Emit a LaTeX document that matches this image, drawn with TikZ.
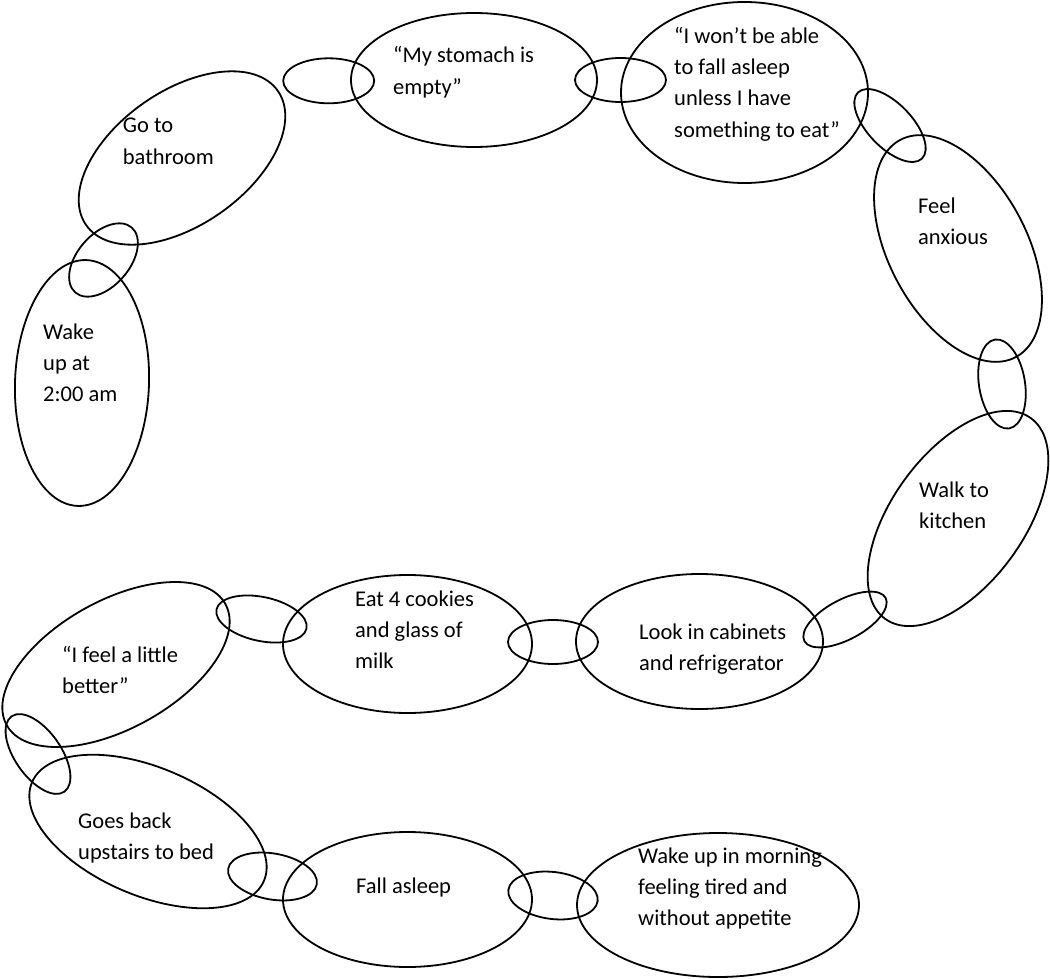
\documentclass[tikz,border=0pt]{standalone}
\usepackage{fontspec}
\setmainfont{Carlito}
\usetikzlibrary{shapes.geometric}
\newcommand\mlines[1]{\vtop{\halign{##\hfil\cr#1\crcr}}}
\begin{document}
\begin{tikzpicture}[x=1pt,y=-1pt,
  oval/.style={draw=black, line width=1.8pt, ellipse, inner sep=0pt, outer sep=0pt},
  lbl/.style={anchor=base west, inner sep=0pt, font=\fontsize{22.5}{31.3}\selectfont}]
\useasboundingbox (0,0) rectangle (1050,979);
% main ellipses
\node[oval, minimum width=134, minimum height=246, rotate=-2] (e1) at (82,383) {};
\node[oval, minimum width=234, minimum height=134, rotate=35] (e2) at (182,158) {};
\node[oval, minimum width=246, minimum height=134] (e3) at (474,80) {};
\node[oval, minimum width=247, minimum height=181] (e4) at (744.5,92.5) {};
\node[oval, minimum width=246, minimum height=138, rotate=-62] (e5) at (958,248.5) {};
\node[oval, minimum width=248, minimum height=132, rotate=54] (e6) at (958,518.5) {};
\node[oval, minimum width=247, minimum height=135] (e7) at (699.5,641.5) {};
\node[oval, minimum width=249, minimum height=138] (e8) at (407.5,644) {};
\node[oval, minimum width=250, minimum height=128, rotate=29] (e9) at (116,664.5) {};
\node[oval, minimum width=252, minimum height=128, rotate=-23] (e10) at (148,831.5) {};
\node[oval, minimum width=249, minimum height=135] (e11) at (407.5,899.5) {};
\node[oval, minimum width=282, minimum height=144] (e12) at (718,905) {};
% links
\node[oval, minimum width=86, minimum height=52, rotate=49] (l1) at (103.5,260) {};
\node[oval, minimum width=91, minimum height=45] (l2) at (328.7,80.8) {};
\node[oval, minimum width=91, minimum height=44] (l3) at (620.5,80) {};
\node[oval, minimum width=92, minimum height=44, rotate=-46] (l4) at (890,125.5) {};
\node[oval, minimum width=90, minimum height=46, rotate=-81] (l5) at (1002,384) {};
\node[oval, minimum width=92, minimum height=40, rotate=28] (l6) at (845,619.5) {};
\node[oval, minimum width=90, minimum height=44] (l7) at (553,642) {};
\node[oval, minimum width=92, minimum height=44, rotate=-12] (l8) at (261.5,619) {};
\node[oval, minimum width=92, minimum height=46, rotate=-55] (l9) at (38,754) {};
\node[oval, minimum width=90, minimum height=46, rotate=-10] (l10) at (272.5,876.5) {};
\node[oval, minimum width=90, minimum height=47, rotate=-7] (l11) at (553,895.5) {};
% texts
\node[lbl] (t1) at (43,339) {\mlines{Wake\cr up at\cr 2:00 am}};
\node[lbl] (t2) at (122.7,133) {\mlines{Go to\cr bathroom}};
\node[lbl] (t3) at (393,63) {\mlines{“My stomach is\cr empty”}};
\node[lbl] (t4) at (674,43.3) {\mlines{“I won’t be able\cr to fall asleep\cr unless I have\cr something to eat”}};
\node[lbl] (t5) at (918,213) {\mlines{Feel\cr anxious}};
\node[lbl] (t6) at (919,497) {\mlines{Walk to\cr kitchen}};
\node[lbl] (t7) at (639,639) {\mlines{Look in cabinets\cr and refrigerator}};
\node[lbl] (t8) at (355,606) {\mlines{Eat 4 cookies\cr and glass of\cr milk}};
\node[lbl] (t9) at (62,662) {\mlines{“I feel a little\cr better”}};
\node[lbl] (t10) at (78,828) {\mlines{Goes back\cr upstairs to bed}};
\node[lbl] (t11) at (356,893) {Fall asleep};
\node[lbl] (t12) at (638,863) {\mlines{Wake up in morning\cr feeling tired and\cr without appetite}};
\end{tikzpicture}
\end{document}
